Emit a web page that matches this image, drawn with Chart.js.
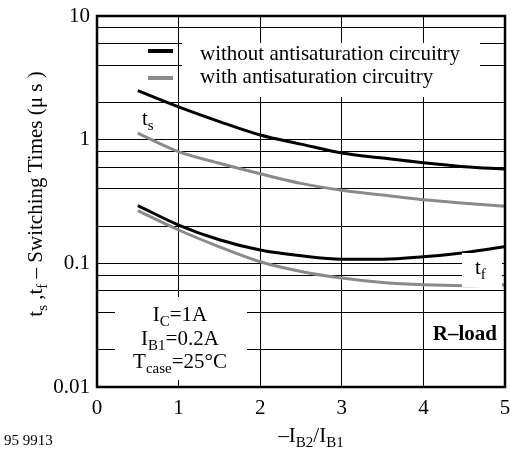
<!DOCTYPE html>
<html>
<head>
<meta charset="utf-8">
<script src="https://cdn.jsdelivr.net/npm/chart.js@4/dist/chart.umd.min.js"></script>
<style>
  html, body { margin: 0; padding: 0; background: #fff; }
  #wrap { width: 510px; height: 461px; }
</style>
</head>
<body>
<div id="wrap"><canvas id="chart1" width="510" height="461"></canvas></div>
<script>
// values
var xVals = [0.5, 1, 1.5, 2, 2.5, 3, 3.5, 4, 4.5, 5];
var tsWithout = [2.49, 1.84, 1.40, 1.09, 0.92, 0.78, 0.71, 0.65, 0.605, 0.58];
var tsWith = [1.13, 0.80, 0.644, 0.53, 0.443, 0.39, 0.357, 0.326, 0.306, 0.29];
var tfWithout = [0.293, 0.204, 0.155, 0.128, 0.115, 0.108, 0.108, 0.113, 0.122, 0.136];
var tfWith = [0.267, 0.186, 0.136, 0.103, 0.086, 0.076, 0.070, 0.067, 0.066, 0.067];
var yGridTicks = [0.01, 0.02, 0.04, 0.06, 0.08, 0.1, 0.2, 0.4, 0.6, 0.8, 1, 2, 4, 6, 8, 10];
var yLabelTicks = [0.01, 0.1, 1, 10];
var xTicks = [0, 1, 2, 3, 4, 5];

var FONT = '"Liberation Serif", "Times New Roman", serif';
var FS = 21; // text size
var GRAY = '#8a8a8a';

function pts(ys) {
    return xVals.map(function (x, i) { return { x: x, y: ys[i] }; });
}

// draw text made of normal + subscript pieces
function setFont(ctx, p, size) {
    ctx.font = (p.bold ? 'bold ' : '') + (p.sub ? Math.round(size * 0.72) : size) + 'px ' + FONT;
}
function richWidth(ctx, parts, size) {
    var w = 0;
    parts.forEach(function (p) {
        setFont(ctx, p, size);
        w += ctx.measureText(p.t).width;
    });
    return w;
}
function richText(ctx, parts, x, y, size, align) {
    var w = richWidth(ctx, parts, size);
    var cx = align === 'center' ? x - w / 2 : (align === 'right' ? x - w : x);
    ctx.textBaseline = 'alphabetic';
    ctx.textAlign = 'left';
    parts.forEach(function (p) {
        setFont(ctx, p, size);
        ctx.fillText(p.t, cx, p.sub ? y + size * 0.25 : y);
        cx += ctx.measureText(p.t).width;
    });
}

var decorations = {
    id: 'decorations',
    beforeDraw: function (chart) {
        var ctx = chart.ctx;
        ctx.save();
        ctx.fillStyle = '#fff';
        ctx.fillRect(0, 0, chart.width, chart.height);
        ctx.restore();
    },
    afterDatasetsDraw: function (chart) {
        var ctx = chart.ctx;
        ctx.save();
        ctx.fillStyle = '#fff';
        // legend box, t_f box, conditions box
        ctx.fillRect(182, 43, 298, 54);
        ctx.fillRect(462, 253, 40, 34);
        ctx.fillRect(115, 297, 132, 83);

        // legend
        ctx.lineWidth = 4;
        ctx.strokeStyle = '#000';
        ctx.beginPath(); ctx.moveTo(148, 51); ctx.lineTo(173, 51); ctx.stroke();
        ctx.strokeStyle = GRAY;
        ctx.beginPath(); ctx.moveTo(148, 78); ctx.lineTo(173, 78); ctx.stroke();
        ctx.fillStyle = '#000';
        richText(ctx, [{ t: 'without antisaturation circuitry' }], 200, 60, FS, 'left');
        richText(ctx, [{ t: 'with antisaturation circuitry' }], 200, 83, FS, 'left');

        // curve labels
        richText(ctx, [{ t: 't' }, { t: 's', sub: true }], 142, 125, FS, 'left');
        richText(ctx, [{ t: 't' }, { t: 'f', sub: true }], 475, 274, FS, 'left');

        // conditions
        richText(ctx, [{ t: 'I' }, { t: 'C', sub: true }, { t: '=1A' }], 180, 321, FS, 'center');
        richText(ctx, [{ t: 'I' }, { t: 'B1', sub: true }, { t: '=0.2A' }], 180, 345, FS, 'center');
        richText(ctx, [{ t: 'T' }, { t: 'case', sub: true }, { t: '=25°C' }], 180, 368, FS, 'center');
        richText(ctx, [{ t: 'R–load', bold: true }], 497, 340, FS, 'right');
        ctx.restore();
    },
    afterDraw: function (chart) {
        var ctx = chart.ctx, a = chart.chartArea;
        ctx.save();
        ctx.strokeStyle = '#000';
        ctx.lineWidth = 2.5;
        ctx.strokeRect(a.left, a.top, a.right - a.left, a.bottom - a.top);
        ctx.fillStyle = '#000';
        // x title
        richText(ctx, [{ t: '–I' }, { t: 'B2', sub: true }, { t: '/I' }, { t: 'B1', sub: true }], 311, 442, FS, 'center');
        // y title
        ctx.translate(37, 194);
        ctx.rotate(-Math.PI / 2);
        richText(ctx, [{ t: 't' }, { t: 's', sub: true }, { t: ' ,t' }, { t: 'f', sub: true },
            { t: ' – Switching Times (μ s )' }], 0, 5, FS, 'center');
        ctx.restore();
        ctx.save();
        ctx.fillStyle = '#000';
        ctx.font = '15px ' + FONT;
        ctx.textBaseline = 'middle';
        ctx.fillText('95 9913', 4, 441);
        ctx.restore();
    }
};

var ctx1 = document.getElementById('chart1').getContext('2d');
var chart1 = new Chart(ctx1, {
    type: 'line',
    data: {
        datasets: [
            { data: pts(tsWithout), borderColor: '#000', borderWidth: 3 },
            { data: pts(tsWith), borderColor: GRAY, borderWidth: 3 },
            { data: pts(tfWithout), borderColor: '#000', borderWidth: 3 },
            { data: pts(tfWith), borderColor: GRAY, borderWidth: 3 }
        ]
    },
    options: {
        responsive: false,
        animation: false,
        devicePixelRatio: 1,
        elements: {
            point: { radius: 0 },
            line: { cubicInterpolationMode: 'monotone', fill: false }
        },
        layout: { padding: { top: 16, right: 5, left: 0, bottom: 0 } },
        plugins: { legend: { display: false }, tooltip: { enabled: false } },
        scales: {
            x: {
                type: 'linear', min: 0, max: 5,
                afterBuildTicks: function (s) { s.ticks = xTicks.map(function (v) { return { value: v }; }); },
                afterFit: function (s) { s.height = 74; s.paddingLeft = 0; s.paddingRight = 0; },
                grid: { color: '#000', lineWidth: 1, drawTicks: false },
                border: { display: false },
                ticks: { color: '#000', font: { family: FONT, size: FS }, padding: 9, maxRotation: 0 }
            },
            y: {
                type: 'logarithmic', min: 0.01, max: 10,
                afterBuildTicks: function (s) { s.ticks = yGridTicks.map(function (v) { return { value: v }; }); },
                afterFit: function (s) { s.width = 97; s.paddingTop = 0; s.paddingBottom = 0; },
                grid: { color: '#000', lineWidth: 1, drawTicks: false },
                border: { display: false },
                ticks: {
                    color: '#000', font: { family: FONT, size: FS }, padding: 7, autoSkip: false,
                    callback: function (v) { return yLabelTicks.indexOf(v) >= 0 ? String(v) : ''; }
                }
            }
        }
    },
    plugins: [decorations]
});
</script>
</body>
</html>
